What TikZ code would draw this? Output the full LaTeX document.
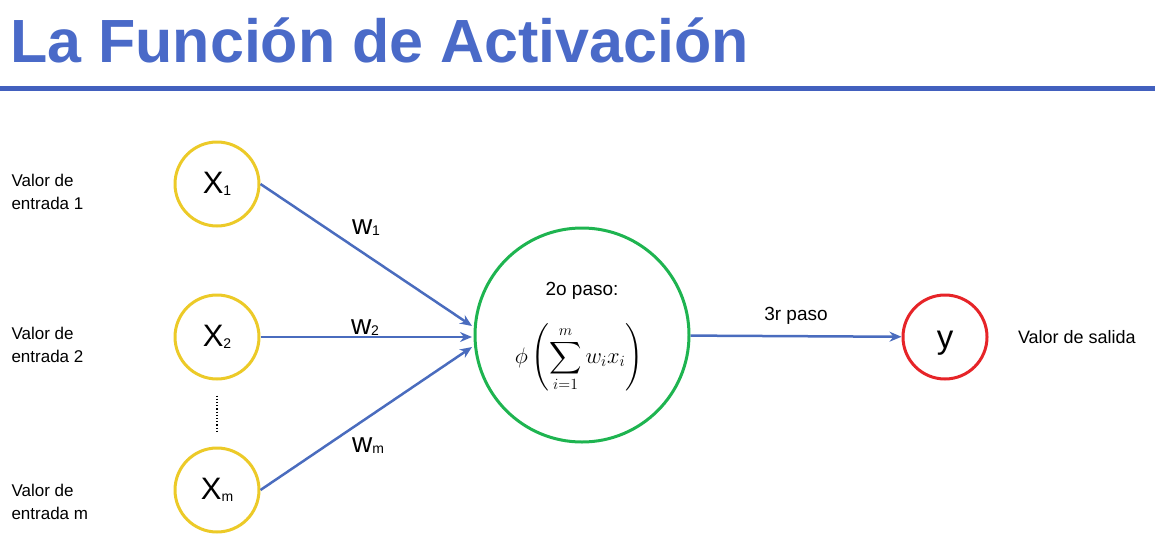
\documentclass[tikz,border=0pt]{standalone}
\usepackage{amsmath}
\usepackage{fontspec}
\setmainfont{Liberation Sans}
\usepackage{tikz}
\usetikzlibrary{arrows.meta, positioning, calc}

\definecolor{titleblue}{RGB}{74,106,200}
\definecolor{lineblue}{RGB}{66,96,190}
\definecolor{arrowblue}{RGB}{74,108,190}
\definecolor{inyellow}{RGB}{236,202,40}
\definecolor{sumgreen}{RGB}{30,180,80}
\definecolor{outred}{RGB}{230,36,40}

\newcommand{\sz}[1]{\fontsize{#1}{#1}\selectfont}
\newcommand{\sub}[1]{\raisebox{-2pt}{\sz{14}#1}}
\newcommand{\wsub}[1]{\raisebox{-1pt}{\sz{14}#1}}

\tikzset{
  neuron/.style={circle, draw, line width=3pt, fill=white, inner sep=0pt, minimum size=84pt, font=\sz{31}},
  sumnode/.style={circle, draw=sumgreen, line width=3pt, inner sep=0pt, minimum size=214pt},
  link/.style={draw=arrowblue, line width=2.5pt, -{Stealth[length=12pt, width=10pt]}},
  weight/.style={font=\sz{28}},
  side/.style={align=left, anchor=west, font=\sz{17}\linespread{1.35}\selectfont}
}

\begin{document}
\begin{tikzpicture}[x=1pt, y=-1pt]
  \useasboundingbox (0,0) rectangle (1155,546);

  % title
  \node[anchor=base west, text=titleblue, font=\bfseries\sz{61}, inner sep=0pt] (title) at (10,62) {La Función de Activación};
  \draw[lineblue, line width=5pt] (0,88) -- (1155,88);

  % inputs
  \node[neuron, draw=inyellow] (x1) at (217,184) {X\sub{1}};
  \node[neuron, draw=inyellow] (x2) at (217,337) {X\sub{2}};
  \node[neuron, draw=inyellow] (xm) at (217,490) {X\sub{m}};
  \draw[line width=1.2pt, dotted] ($(x2.south)+(0,15)$) -- ($(xm.north)+(0,-15)$);

  \node[side] (lab1) at (8,192) {Valor de\\entrada 1};
  \node[side] (lab2) at (8,345) {Valor de\\entrada 2};
  \node[side] (labm) at (8,502) {Valor de\\entrada m};

  % neuron
  \node[sumnode] (sum) at (582,335) {};
  \node[font=\sz{19}, inner sep=0pt] (step2) at (582,291) {2o paso:};
  \node[font=\sz{18}, inner sep=0pt] (phi) at (579,358) {\scalebox{1.3}{$\displaystyle \phi\left(\sum_{i=1}^{m} w_i x_i\right)$}};

  \coordinate (in1) at (472,326);
  \coordinate (in2) at (472,337);
  \coordinate (inm) at (472,347);

  \draw[link] (x1.east) -- (in1);
  \draw[link] (x2.east) -- (in2);
  \draw[link] (xm.east) -- (inm);

  \node[weight] (w1) at (366,228) {w\wsub{1}};
  \node[weight] (w2) at (365,328) {w\wsub{2}};
  \node[weight] (wm) at (368,446) {w\wsub{m}};

  % output
  \node[neuron, draw=outred, font=\sz{33}, text height=22pt, text depth=0pt] (y) at (945,337) {y};
  \draw[link] (sum) -- (y);
  \node[font=\sz{19}] (step3) at (796,316) {3r paso};
  \node[font=\sz{18}, right=26pt of y] (ylab) {Valor de salida};
\end{tikzpicture}
\end{document}
